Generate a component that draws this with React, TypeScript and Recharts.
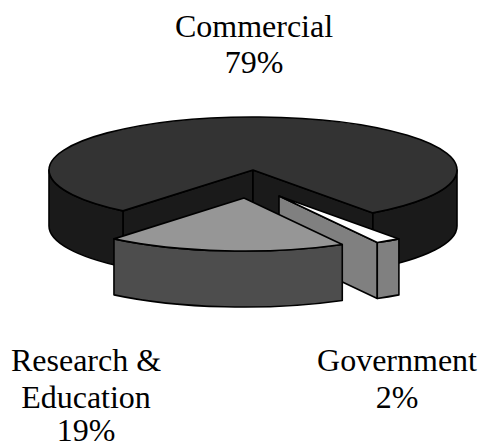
import React from "react"
import { Pie, PieChart } from "recharts"

const sectors = ["Commercial", "Government", "Research & Education"]
const shares = [79, 2, 19]

// how far each wedge is pulled away from the pie's centre
const pullOut: Record<string, [number, number]> = {
   Commercial: [0, 0],
   Government: [26, 26],
   "Research & Education": [-9, 28],
}

const topFill: Record<string, string> = {
   Commercial: "#333333",
   Government: "#ffffff",
   "Research & Education": "#969696",
}

const sideFill: Record<string, string> = {
   Commercial: "#1a1a1a",
   Government: "#808080",
   "Research & Education": "#4d4d4d",
}

const captions: Record<string, { x: number; lines: [string, number][] }> = {
   Commercial: { x: 254, lines: [["Commercial", 37], ["79%", 73]] },
   Government: { x: 397, lines: [["Government", 371], ["2%", 408]] },
   "Research & Education": {
      x: 86,
      lines: [["Research &", 371], ["Education", 408], ["19%", 441]],
   },
}

const data = sectors.map((name, i) => ({ name, value: shares[i] }))

const SQUASH = 0.26
const DEPTH = 56
const RAD = Math.PI / 180

// Draws one slice as a tilted, extruded wedge from the angles the Pie computed
const WedgeShape = (props: any) => {
   const { cx, cy, outerRadius, startAngle, endAngle, name } = props
   const [dx, dy] = pullOut[name]
   const x0 = cx + dx
   const y0 = cy + dy
   const rx = outerRadius
   const ry = outerRadius * SQUASH
   const lo = Math.min(startAngle, endAngle)
   const hi = Math.max(startAngle, endAngle)

   const px = (a: number) => x0 + rx * Math.cos(a * RAD)
   const py = (a: number) => y0 - ry * Math.sin(a * RAD)

   const top = `M${x0},${y0} L${px(lo)},${py(lo)} A${rx},${ry} 0 ${
      hi - lo > 180 ? 1 : 0
   } 0 ${px(hi)},${py(hi)} Z`

   const cutFace = (a: number) =>
      `M${x0},${y0} L${px(a)},${py(a)} L${px(a)},${py(a) + DEPTH} L${x0},${y0 + DEPTH} Z`

   // a cut face shows only when its outward normal points at the viewer
   const faces: number[] = []
   if (Math.sin((hi + 90) * RAD) < 0) faces.push(hi)
   if (Math.sin((lo - 90) * RAD) < 0) faces.push(lo)

   // the rim shows on the front half of the ellipse only
   const rims: [number, number][] = []
   for (const k of [-360, 0, 360]) {
      const a = Math.max(lo, -180 + k)
      const b = Math.min(hi, k)
      if (b > a) rims.push([a, b])
   }

   return (
      <g stroke="#000" strokeWidth={1.6} strokeLinejoin="round">
         {faces.map((a) => (
            <path key={a} d={cutFace(a)} fill={sideFill[name]} />
         ))}
         {rims.map(([a, b]) => (
            <path
               key={a}
               fill={sideFill[name]}
               d={`M${px(a)},${py(a)} A${rx},${ry} 0 0 0 ${px(b)},${py(b)} L${px(b)},${
                  py(b) + DEPTH
               } A${rx},${ry} 0 0 1 ${px(a)},${py(a) + DEPTH} Z`}
            />
         ))}
         <path d={top} fill={topFill[name]} />
      </g>
   )
}

const Caption = (props: any) => {
   const { x, lines } = captions[props.name]
   return (
      <text
         textAnchor="middle"
         fontFamily="'Liberation Serif'"
         fontSize={32}
         fill="#000"
      >
         {lines.map(([t, y]) => (
            <tspan key={t} x={x} y={y}>
               {t}
            </tspan>
         ))}
      </text>
   )
}

export default function App() {
   return (
      <div style={{ position: "absolute", left: 0, top: 0, width: 481, height: 448 }}>
         <PieChart
            width={481}
            height={448}
            margin={{ top: 0, right: 0, bottom: 0, left: 0 }}
         >
            <Pie
               data={data}
               dataKey="value"
               nameKey="name"
               cx={253}
               cy={170}
               innerRadius={0}
               outerRadius={204}
               startAngle={230.4}
               endAngle={-129.6}
               paddingAngle={0}
               shape={WedgeShape}
               label={Caption}
               labelLine={false}
               isAnimationActive={false}
            />
         </PieChart>
      </div>
   )
}
